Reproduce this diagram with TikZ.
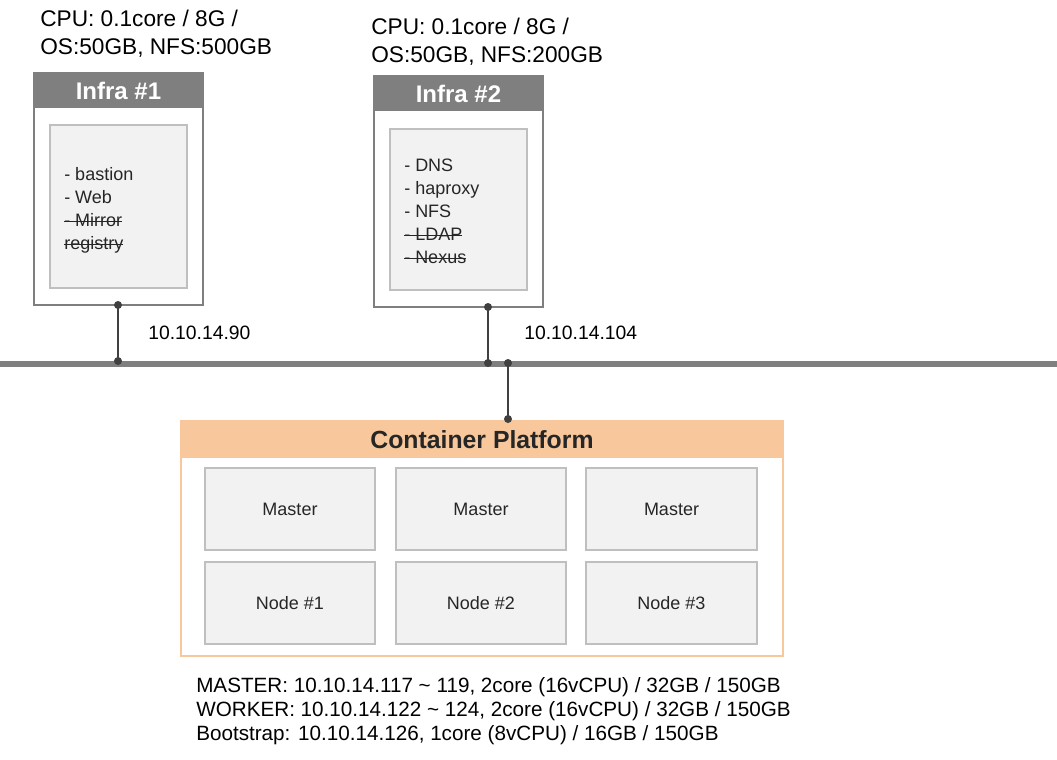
\documentclass[tikz,border=0pt]{standalone}
\usepackage{fontspec}
\setmainfont{Liberation Sans}
\usetikzlibrary{fit}
\newcommand\mystrike[1]{\setbox0\hbox{#1}\rlap{\vrule height 0.32em depth -0.25em width \wd0}\box0}
\definecolor{hdrgray}{HTML}{7F7F7F}
\definecolor{innerfill}{HTML}{F2F2F2}
\definecolor{innerline}{HTML}{BFBFBF}
\definecolor{connc}{HTML}{404040}
\definecolor{orng}{HTML}{F8C89C}
\definecolor{txt}{HTML}{262626}
\tikzset{
  outerbox/.style={draw=hdrgray, line width=1.5pt, fill=white, inner sep=0pt},
  hdrbox/.style={fill=hdrgray, inner sep=0pt},
  innerbox/.style={draw=innerline, line width=1.5pt, fill=innerfill, inner sep=0pt},
  hdrtext/.style={text=white, font=\bfseries\fontsize{18}{20}\selectfont, inner sep=0pt},
  listtext/.style={text=txt, font=\fontsize{13.5}{17.25}\selectfont, align=left, anchor=north west, inner sep=0pt},
  toptext/.style={text=black, font=\fontsize{17}{20.5}\selectfont, align=left, anchor=north west, inner sep=0pt},
  iptext/.style={text=black, font=\fontsize{14.5}{17}\selectfont, anchor=west, inner sep=0pt},
  cellbox/.style={draw=innerline, line width=1.5pt, fill=innerfill, inner sep=0pt},
  celltext/.style={text=txt, font=\fontsize{13.5}{16}\selectfont, inner sep=0pt},
  conn/.style={draw=connc, line width=1.5pt},
  dot/.style={fill=connc, draw=none},
}
\begin{document}
\begin{tikzpicture}[x=0.75pt,y=-0.75pt]
\useasboundingbox (0,0) rectangle (1057,760);
% ---------- Infra #1 ----------
\node[toptext] (top1) at (40,10) {CPU: 0.1core / 8G /\\OS:50GB, NFS:500GB};
\node[outerbox, fit={(34,73) (203,305)}] (infra1) {};
\node[hdrbox, fit={(34,73) (203,108)}] (hdr1) {};
\node[hdrtext] (hdr1t) at (hdr1.center) {Infra \#1};
\node[innerbox, fit={(50,125) (187,288)}] (in1) {};
\node[listtext] (list1) at (64,167) {- bastion\\- Web\\\mystrike{- Mirror}\\\mystrike{registry}};
% ---------- Infra #2 ----------
\node[toptext] (top2) at (371,18) {CPU: 0.1core / 8G /\\OS:50GB, NFS:200GB};
\node[outerbox, fit={(374,76) (543,307)}] (infra2) {};
\node[hdrbox, fit={(374,76) (543,111)}] (hdr2) {};
\node[hdrtext] (hdr2t) at (hdr2.center) {Infra \#2};
\node[innerbox, fit={(390,129) (527,290)}] (in2) {};
\node[listtext] (list2) at (404,159) {- DNS\\- haproxy\\- NFS\\\mystrike{- LDAP}\\\mystrike{- Nexus}};
% ---------- Bus ----------
\coordinate (busL) at (0,364);
\coordinate (busR) at (1057,364);
\draw[draw=hdrgray, line width=4.5pt] (busL) -- (busR);
% ---------- Container Platform ----------
\node[fill=white, draw=orng, line width=1.5pt, inner sep=0pt, fit={(181,421) (783,656)}] (cp) {};
\node[fill=orng, inner sep=0pt, fit={(181,421) (783,458)}] (cphdr) {};
\node[text=txt, font=\bfseries\fontsize{18.6}{20}\selectfont, inner sep=0pt] (cpt) at (cphdr.center) {Container Platform};
\node[cellbox, fit={(205,468) (375,550)}] (m1) {};
\node[cellbox, fit={(396,468) (566,550)}] (m2) {};
\node[cellbox, fit={(586,468) (757,550)}] (m3) {};
\node[cellbox, fit={(205,562) (375,644)}] (n1) {};
\node[cellbox, fit={(396,562) (566,644)}] (n2) {};
\node[cellbox, fit={(586,562) (757,644)}] (n3) {};
\node[celltext] at (m1.center) {Master};
\node[celltext] at (m2.center) {Master};
\node[celltext] at (m3.center) {Master};
\node[celltext] at (n1.center) {Node \#1};
\node[celltext] at (n2.center) {Node \#2};
\node[celltext] at (n3.center) {Node \#3};
% ---------- Connectors ----------
\coordinate (i1a) at (118,305);
\coordinate (i1b) at (118,361);
\coordinate (i2a) at (488,307);
\coordinate (i2b) at (488,363);
\coordinate (cpa) at (508,363);
\coordinate (cpb) at (508,419);
\draw[conn] (i1a) -- (i1b);
\draw[conn] (i2a) -- (i2b);
\draw[conn] (cpa) -- (cpb);
\foreach \p in {i1a,i1b,i2a,i2b,cpa,cpb} \fill[dot] (\p) circle (3pt);
\node[iptext] (ip1) at (148,333) {10.10.14.90};
\node[iptext] (ip2) at (524,333) {10.10.14.104};
% ---------- Bottom text ----------
\node[text=black, font=\fontsize{15.5}{18}\selectfont, align=left, anchor=north west, inner sep=0pt] (spec) at (196,677)
 {MASTER: 10.10.14.117 \textasciitilde{} 119, 2core (16vCPU) / 32GB / 150GB\\
  WORKER: 10.10.14.122 \textasciitilde{} 124, 2core (16vCPU) / 32GB / 150GB\\
  Bootstrap: 10.10.14.126, 1core (8vCPU) / 16GB / 150GB};
\end{tikzpicture}
\end{document}
